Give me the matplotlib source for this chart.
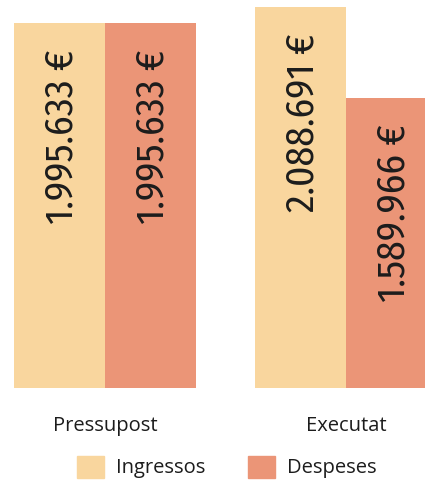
import matplotlib
matplotlib.use("Agg")
import matplotlib.pyplot as plt
from matplotlib.patches import Patch
import numpy as np

categories = ["Pressupost", "Executat"]
series_names = ["Ingressos", "Despeses"]
ingressos = [1995633, 2088691]
despeses = [1995633, 1589966]
value_labels_ing = ["1.995.633 €", "2.088.691 €"]
value_labels_des = ["1.995.633 €", "1.589.966 €"]

col_ing = "#F9D69E"
col_des = "#EB9577"
txt = "#1c1c1c"

W, H = 425, 483
fig = plt.figure(figsize=(W / 100, H / 100), dpi=100)
ax = fig.add_axes([0, (H - 388) / H, 1, 388 / H])

group_x = np.array([0.0, 241 / 91])
bw = 1.0
b1 = ax.bar(group_x - bw / 2, ingressos, width=bw, color=col_ing, linewidth=0)
b2 = ax.bar(group_x + bw / 2, despeses, width=bw, color=col_des, linewidth=0)

ax.set_xlim(-1 - 14 / 91, -1 - 14 / 91 + 425 / 91)
ax.set_ylim(0, 2088691 * 388 / 381.5)

vfont = dict(family=["Fira Sans Condensed", "Asap Condensed", "Barlow Semi Condensed", "DejaVu Sans"],
             size=28.5, color=txt)
for bars, labs in ((b1, value_labels_ing), (b2, value_labels_des)):
    for rect, lab in zip(bars, labs):
        ax.annotate(lab, (rect.get_x() + rect.get_width() / 2, rect.get_height()),
                    xytext=(2, -19), textcoords="offset points",
                    rotation=90, ha="center", va="top", **vfont)

ax.set_xticks(group_x, categories)
ax.tick_params(axis="x", length=0, pad=20, labelsize=14.5, labelcolor=txt)
for t in ax.get_xticklabels():
    t.set_family(["Open Sans", "DejaVu Sans"])
ax.set_yticks([])
for s in ax.spines.values():
    s.set_visible(False)

handles = [Patch(color=col_ing, label=series_names[0]),
           Patch(color=col_des, label=series_names[1])]
fig.legend(handles=handles, loc="center", bbox_to_anchor=(227 / W, 1 - 467 / H),
           ncol=2, frameon=False, handlelength=1.34, handleheight=1.34,
           handletextpad=0.6, columnspacing=2.1,
           prop={"family": ["Open Sans", "DejaVu Sans"], "size": 14.5},
           labelcolor=txt)

fig.savefig("out.png", dpi=100)
